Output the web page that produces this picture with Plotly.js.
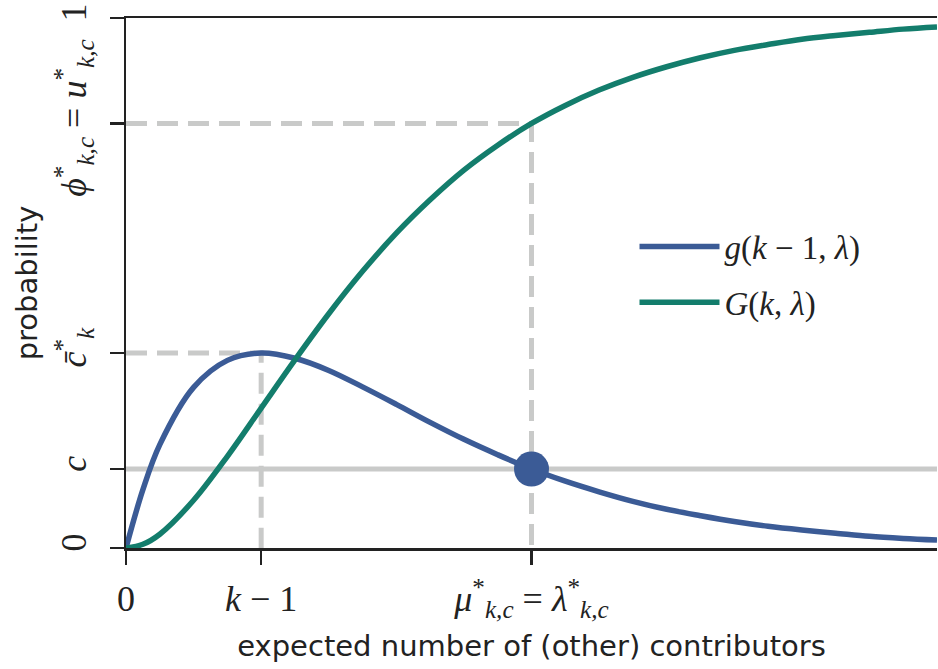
<!DOCTYPE html>
<html>
<head>
<meta charset="utf-8">
<script src="https://cdn.plot.ly/plotly-3.0.1.min.js"></script>
<style>html,body{margin:0;padding:0;background:#fff;}#chart{width:938px;height:669px;}</style>
</head>
<body>
<div id="chart"></div>
<script>
// expected number of (other) contributors (lambda)
const lambdaVals = [0, 0.125, 0.25, 0.5, 0.75, 1, 1.25, 1.5, 1.75, 2, 2.25, 2.5, 2.75, 3, 3.25, 3.5, 3.75, 4, 4.25, 4.5, 4.75, 5, 5.25, 5.5, 5.75, 6];
// g(k-1, lambda)
const gVals = [0, 0.110, 0.195, 0.303, 0.354, 0.368, 0.358, 0.335, 0.304, 0.271, 0.237, 0.205, 0.176, 0.149, 0.126, 0.106, 0.088, 0.073, 0.061, 0.050, 0.041, 0.034, 0.028, 0.022, 0.018, 0.015];
// G(k, lambda)
const GVals = [0, 0.007, 0.026, 0.090, 0.173, 0.264, 0.355, 0.442, 0.522, 0.594, 0.657, 0.713, 0.760, 0.801, 0.835, 0.864, 0.888, 0.908, 0.925, 0.939, 0.950, 0.960, 0.967, 0.973, 0.979, 0.983];

// key points
const kMinus1 = 1;
const muStar = 3;
const cBarStar = 0.368;
const cVal = 0.149;
const uStar = 0.801;
const xMax = 6;

const xTickVals = [0, kMinus1, muStar];
const xTickText = ['0', '<i>k</i> − 1', '<i>μ</i><sup>*</sup><sub><i>k,c</i></sub> = <i>λ</i><sup>*</sup><sub><i>k,c</i></sub>'];
const yTickVals = [0, cVal, cBarStar, uStar, 1];
const yTickText = ['0', '<i>c</i>', '<i>c̄</i><sup>*</sup><sub><i>k</i></sub>', '<i>ϕ</i><sup>*</sup><sub><i>k,c</i></sub> = <i>u</i><sup>*</sup><sub><i>k,c</i></sub>', '1'];

const blue = '#3b5b96';
const green = '#137d6c';
const gray = '#c9cac9';
const dash = '21px,10px';

const traces = [
  {x: [0, xMax], y: [cVal, cVal], mode: 'lines', line: {color: gray, width: 5}, showlegend: false, hoverinfo: 'skip'},
  {x: [0, muStar, muStar], y: [uStar, uStar, 0], mode: 'lines', line: {color: gray, width: 5, dash: dash}, showlegend: false, hoverinfo: 'skip'},
  {x: [0, kMinus1, kMinus1], y: [cBarStar, cBarStar, 0], mode: 'lines', line: {color: gray, width: 5, dash: dash}, showlegend: false, hoverinfo: 'skip'},
  {x: lambdaVals, y: gVals, mode: 'lines', name: '<i>g</i>(<i>k</i> − 1, <i>λ</i>)', legendgroup: 'a', line: {color: blue, width: 5.5, shape: 'spline', smoothing: 1}},
  {x: lambdaVals, y: GVals, mode: 'lines', name: '<i>G</i>(<i>k</i>, <i>λ</i>)', legendgroup: 'b', line: {color: green, width: 5.5, shape: 'spline', smoothing: 1}},
  {x: [muStar], y: [cVal], mode: 'markers', marker: {color: blue, size: 35}, showlegend: false, hoverinfo: 'skip', cliponaxis: false}
];

const serif = 'Liberation Serif, DejaVu Serif, serif';
const sans = 'DejaVu Sans, sans-serif';

const layout = {
  width: 938, height: 669,
  margin: {l: 126, r: 1, t: 18, b: 121},
  paper_bgcolor: '#fff', plot_bgcolor: '#fff',
  showlegend: true,
  legend: {x: 0.627, y: 0.516, xanchor: 'left', yanchor: 'middle', bgcolor: 'rgba(0,0,0,0)', font: {family: serif, size: 33, color: '#222'}, itemwidth: 80, tracegroupgap: 10},
  xaxis: {
    range: [0, xMax], showgrid: false, zeroline: false,
    showline: true, linecolor: '#222', linewidth: 2.5, mirror: true,
    ticks: 'outside', ticklen: 14, tickwidth: 2.5, tickcolor: '#222',
    tickmode: 'array', tickvals: xTickVals, ticktext: xTickText,
    tickfont: {family: serif, size: 36, color: '#222'}, ticklabelstandoff: 3,
    title: {text: 'expected number of (other) contributors', font: {family: sans, size: 29, color: '#222'}, standoff: 14}
  },
  yaxis: {
    range: [0, 1], showgrid: false, zeroline: false,
    showline: true, linecolor: '#222', linewidth: 2.5,
    ticks: 'outside', ticklen: 14, tickwidth: 2.5, tickcolor: '#222',
    tickmode: 'array', tickvals: yTickVals, ticktext: yTickText, tickangle: -90,
    tickfont: {family: serif, size: 36, color: '#222'}, ticklabelstandoff: 9,
    title: {text: 'probability', font: {family: sans, size: 29, color: '#222'}, standoff: 3}
  },
  hovermode: false
};

Plotly.newPlot('chart', traces, layout, {displayModeBar: false, staticPlot: true});
</script>
</body>
</html>
